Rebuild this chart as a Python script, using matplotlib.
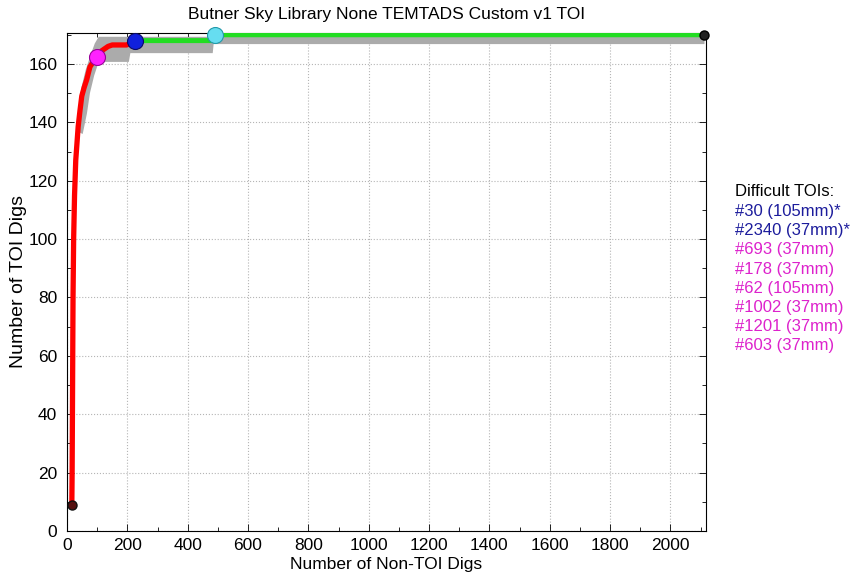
import matplotlib.pyplot as plt
from matplotlib.ticker import MultipleLocator

plt.rcParams['font.family'] = ['Liberation Sans', 'DejaVu Sans']

# ROC-style dig curve: TOI digs vs non-TOI digs
red_x = [16, 17, 18, 19, 20, 22, 25, 29, 37, 43, 49, 57, 65, 76, 98, 115, 136, 150, 198, 225]
red_y = [9, 20, 40, 60, 80, 100, 115, 127, 138.5, 144, 149, 152, 154.5, 159, 162.5, 164.5, 166, 166.5, 166.5, 168]

green_x = [225, 480, 490, 2113]
green_y = [168, 168, 170, 170]

# uncertainty envelope around the curve
band_upper_x = [32, 38, 48, 62, 78, 92, 105, 2113]
band_upper_y = [137, 145, 152, 158, 163, 167, 169.3, 169.3]
band_lower_x = [52, 66, 76, 90, 105, 205, 210, 483, 486, 2113]
band_lower_y = [136, 143, 150, 156, 160.7, 160.7, 163.7, 163.7, 166.8, 166.8]

# operating points
pt_start = (16, 9)
pt_magenta = (98, 162.5)
pt_blue = (225, 168)
pt_cyan = (490, 170)
pt_end = (2113, 170)

toi_header = 'Difficult TOIs:'
toi_labels = ['#30 (105mm)*', '#2340 (37mm)*', '#693 (37mm)', '#178 (37mm)',
              '#62 (105mm)', '#1002 (37mm)', '#1201 (37mm)', '#603 (37mm)']
toi_colors = ['#1c1c9c', '#1c1c9c'] + ['#dd22cc'] * 6

fs = 12.5

fig = plt.figure(figsize=(8.57, 5.82), dpi=100)
ax = fig.add_axes([67/857, 1-531/582, (706-67)/857, (531-33)/582])

poly_x = band_upper_x + band_lower_x[::-1]
poly_y = band_upper_y + band_lower_y[::-1]
ax.fill(poly_x, poly_y, color='#ababab', lw=0, zorder=2)

ax.plot(red_x, red_y, '-', color='#ff0000', lw=3.8, solid_capstyle='round',
        solid_joinstyle='round', zorder=3)
ax.plot(green_x, green_y, '-', color='#22dd22', lw=3.6, zorder=3)

ax.plot(*pt_start, 'o', ms=6.5, mfc='#551010', mec='#111111', zorder=5, clip_on=False)
ax.plot(*pt_end, 'o', ms=6.5, mfc='#222222', mec='#000000', zorder=5, clip_on=False)
ax.plot(*pt_magenta, 'o', ms=11.5, mfc='#ff22ff', mec='#990099', mew=0.8, zorder=5, clip_on=False)
ax.plot(*pt_blue, 'o', ms=11.5, mfc='#1020dd', mec='#0a0a66', mew=0.8, zorder=5, clip_on=False)
ax.plot(*pt_cyan, 'o', ms=11.5, mfc='#66ddf0', mec='#2299aa', mew=0.8, zorder=5, clip_on=False)

ax.set_xlim(0, 2118)
ax.set_ylim(0, 170.6)
ax.xaxis.set_major_locator(MultipleLocator(200))
ax.xaxis.set_minor_locator(MultipleLocator(100))
ax.yaxis.set_major_locator(MultipleLocator(20))
ax.yaxis.set_minor_locator(MultipleLocator(10))
ax.tick_params(which='both', direction='in', top=True, right=True, labelsize=fs)
ax.tick_params(axis='x', pad=5)
ax.tick_params(axis='y', pad=7)
ax.tick_params(which='major', length=5, width=0.6)
ax.tick_params(which='minor', length=3, width=0.6)
ax.grid(True, which='major', ls=':', color='#b5b5b5', lw=0.8)
for s in ax.spines.values():
    s.set_linewidth(0.8)

ax.set_title('Butner Sky Library None TEMTADS Custom v1 TOI', fontsize=fs, pad=10)
ax.set_xlabel('Number of Non-TOI Digs', fontsize=fs, labelpad=3)
ax.set_ylabel('Number of TOI Digs', fontsize=14, labelpad=1)

fig.text(735/857, 1-192/582, toi_header, fontsize=12, color='black', va='center')
for i, (lab, col) in enumerate(zip(toi_labels, toi_colors)):
    fig.text(735/857, 1-(211.5+19.2*i)/582, lab, fontsize=12, color=col, va='center')

fig.savefig('out.png', dpi=100)
